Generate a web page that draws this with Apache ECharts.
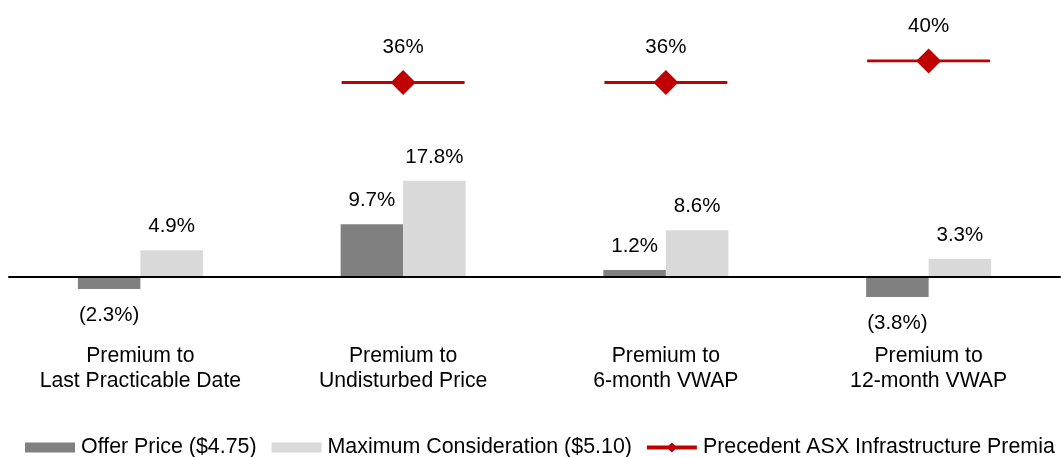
<!DOCTYPE html>
<html>
<head>
<meta charset="utf-8">
<script src="https://cdn.jsdelivr.net/npm/echarts@6/dist/echarts.min.js"></script>
<style>
  html, body { margin: 0; padding: 0; background: #fff; }
  #chart { width: 1061px; height: 457px; }
</style>
</head>
<body>
<div id="chart"></div>
<script>
// Premium comparisons (%)
const categories = [
  'Premium to\nLast Practicable Date',
  'Premium to\nUndisturbed Price',
  'Premium to\n6-month VWAP',
  'Premium to\n12-month VWAP'
];
const offerPrice = [-2.3, 9.7, 1.2, -3.8];
const maxConsideration = [4.9, 17.8, 8.6, 3.3];
const precedentPremia = [null, 36, 36, 40];

const seriesNames = [
  'Offer Price ($4.75)',
  'Maximum Consideration ($5.10)',
  'Precedent ASX Infrastructure Premia'
];

const FONT = '"Liberation Sans", Arial, Helvetica, sans-serif';
const RED = '#c00000';
const VALUE_FONT_SIZE = 20.5;

function pctLabel(v) {
  return v < 0 ? '(' + Math.abs(v).toFixed(1) + '%)' : v.toFixed(1) + '%';
}

// Labels go above positive bars and below negative ones
function barData(values) {
  return values.map(v => ({
    value: v,
    label: { position: v < 0 ? 'bottom' : 'top', distance: v < 0 ? 16 : 13 }
  }));
}

const precedentData = precedentPremia
  .map((v, i) => (v == null ? null : [i, v]))
  .filter(Boolean);

const barLabel = {
  show: true,
  fontSize: VALUE_FONT_SIZE,
  color: '#000',
  fontFamily: FONT,
  formatter: p => pctLabel(p.value)
};

const chart = echarts.init(document.getElementById('chart'));

chart.setOption({
  animation: false,
  textStyle: { fontFamily: FONT },
  grid: { left: 9, right: 1, top: 34, bottom: 126.5 },
  legend: {
    left: 20,
    top: 432,
    itemWidth: 50,
    itemHeight: 10,
    itemGap: 15,
    textStyle: { fontSize: 21.4, color: '#000', fontFamily: FONT, padding: [0, 0, 0, 1] },
    data: [
      { name: seriesNames[0], icon: 'rect' },
      { name: seriesNames[1], icon: 'rect' },
      { name: seriesNames[2], icon: 'path://M0,3 H50 V7 H0 Z M25,0 L30.5,5 L25,10 L19.5,5 Z' }
    ]
  },
  xAxis: {
    type: 'category',
    data: categories,
    z: 5,
    axisLine: { onZero: true, lineStyle: { color: '#000', width: 2 } },
    axisTick: { show: false },
    axisLabel: {
      margin: 13,
      fontSize: 21.2,
      lineHeight: 25,
      color: '#000',
      fontFamily: FONT
    }
  },
  yAxis: {
    type: 'value',
    min: -10,
    max: 45,
    show: false,
    splitLine: { show: false }
  },
  series: [
    {
      name: seriesNames[0],
      type: 'bar',
      barWidth: 62.5,
      barGap: '0%',
      itemStyle: { color: '#808080' },
      label: barLabel,
      data: barData(offerPrice)
    },
    {
      name: seriesNames[1],
      type: 'bar',
      barWidth: 62.5,
      barGap: '0%',
      itemStyle: { color: '#d9d9d9' },
      label: barLabel,
      data: barData(maxConsideration)
    },
    {
      name: seriesNames[2],
      type: 'custom',
      itemStyle: { color: RED },
      z: 6,
      renderItem: function (params, api) {
        const pt = api.coord([api.value(0), api.value(1)]);
        const half = api.size([1, 0])[0] * 0.234;
        return {
          type: 'group',
          children: [
            {
              type: 'line',
              shape: { x1: pt[0] - half, y1: pt[1], x2: pt[0] + half, y2: pt[1] },
              style: { stroke: RED, lineWidth: 2.8 }
            },
            {
              type: 'polygon',
              shape: {
                points: [
                  [pt[0], pt[1] - 12.5],
                  [pt[0] + 12.5, pt[1]],
                  [pt[0], pt[1] + 12.5],
                  [pt[0] - 12.5, pt[1]]
                ]
              },
              style: { fill: RED }
            },
            {
              type: 'text',
              x: pt[0],
              y: pt[1] - 35,
              style: {
                text: api.value(1) + '%',
                fontSize: VALUE_FONT_SIZE,
                fontFamily: FONT,
                fill: '#000',
                align: 'center',
                verticalAlign: 'middle'
              }
            }
          ]
        };
      },
      encode: { x: 0, y: 1 },
      data: precedentData
    }
  ]
});
</script>
</body>
</html>
